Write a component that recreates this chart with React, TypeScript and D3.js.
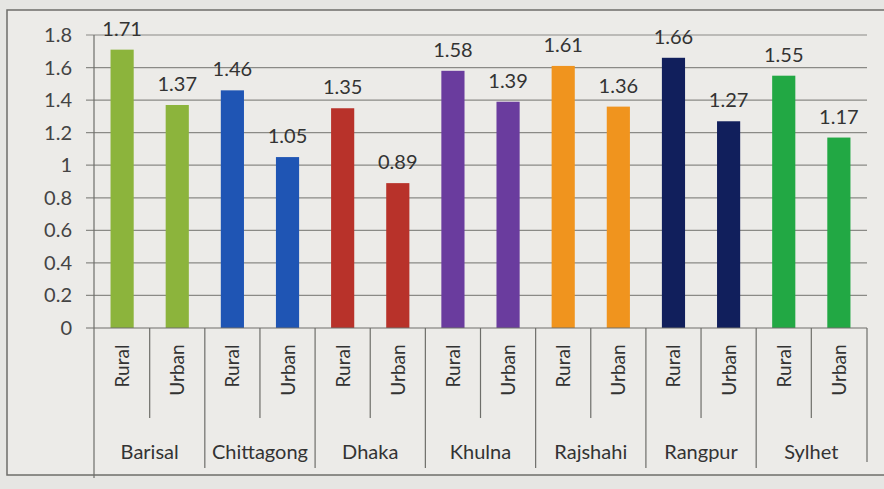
import { useEffect, useRef } from 'react';
import * as d3 from 'd3';

// regions (outer groups) and area types (inner bars)
const regions = ['Barisal', 'Chittagong', 'Dhaka', 'Khulna', 'Rajshahi', 'Rangpur', 'Sylhet'];
const areas = ['Rural', 'Urban'];
const ruralValues = [1.71, 1.46, 1.35, 1.58, 1.61, 1.66, 1.55];
const urbanValues = [1.37, 1.05, 0.89, 1.39, 1.36, 1.27, 1.17];
const regionColors = ['#8cb43c', '#1f55b4', '#b8322a', '#6a3c9e', '#f0941e', '#111f5c', '#22a844'];
const yTicks = [0, 0.2, 0.4, 0.6, 0.8, 1, 1.2, 1.4, 1.6, 1.8];

function App() {
    const svgRef = useRef<SVGSVGElement>(null);

    useEffect(() => {
        const width = 884;
        const height = 489;
        const plot = { left: 94, right: 867, top: 35, bottom: 328 };
        const font = 'Lato, "Open Sans", sans-serif';

        const svg = d3.select(svgRef.current);
        svg.selectAll('*').remove();
        svg.attr('width', width).attr('height', height);

        // flatten into one bar per region/area
        const bars = regions.flatMap((region, i) => [
            { key: `${region}-Rural`, region, area: areas[0], value: ruralValues[i], color: regionColors[i] },
            { key: `${region}-Urban`, region, area: areas[1], value: urbanValues[i], color: regionColors[i] },
        ]);

        const x = d3.scaleBand()
            .domain(bars.map(d => d.key))
            .range([plot.left, plot.right])
            .paddingInner(0.58)
            .paddingOuter(0.3);
        const step = x.step();

        const y = d3.scaleLinear()
            .domain([0, 1.8])
            .range([plot.bottom, plot.top]);

        // background + frame like the photographed excel chart
        svg.append('rect')
            .attr('x', 0).attr('y', 0).attr('width', width).attr('height', height)
            .attr('fill', '#e6e6e3');
        svg.append('rect')
            .attr('x', 7).attr('y', 10).attr('width', width + 10).attr('height', 465)
            .attr('fill', '#ecebe8')
            .attr('stroke', '#6e6e6a').attr('stroke-width', 1.5);

        // horizontal gridlines
        svg.append('g')
            .selectAll('line')
            .data(yTicks.slice(1))
            .join('line')
            .attr('x1', plot.left - 8).attr('x2', plot.right)
            .attr('y1', d => y(d)).attr('y2', d => y(d))
            .attr('stroke', '#8a8a86').attr('stroke-width', 1.2);

        // y tick labels
        svg.append('g')
            .selectAll('text')
            .data(yTicks)
            .join('text')
            .attr('x', 72).attr('y', d => y(d))
            .attr('dy', '0.35em')
            .attr('text-anchor', 'end')
            .attr('font-family', font).attr('font-size', 20)
            .attr('fill', '#444')
            .text(d => String(d));

        // bars
        svg.append('g')
            .selectAll('rect')
            .data(bars)
            .join('rect')
            .attr('x', d => x(d.key)!)
            .attr('width', x.bandwidth())
            .attr('y', d => y(d.value))
            .attr('height', d => y(0) - y(d.value))
            .attr('fill', d => d.color);

        // data labels
        svg.append('g')
            .selectAll('text')
            .data(bars)
            .join('text')
            .attr('x', d => x(d.key)! + x.bandwidth() / 2)
            .attr('y', d => y(d.value) - 14)
            .attr('text-anchor', 'middle')
            .attr('font-family', font).attr('font-size', 20)
            .attr('fill', '#333')
            .text(d => d.value.toFixed(2));

        // axes lines
        svg.append('line')
            .attr('x1', plot.left - 8).attr('x2', plot.right)
            .attr('y1', y(0)).attr('y2', y(0))
            .attr('stroke', '#6e6e6a').attr('stroke-width', 1.2);
        svg.append('line')
            .attr('x1', plot.left).attr('x2', plot.left)
            .attr('y1', plot.top).attr('y2', 478)
            .attr('stroke', '#6e6e6a').attr('stroke-width', 1.2);

        // multi level category axis separators
        const left = (key: string) => x(key)! - (step - x.bandwidth()) / 2;
        svg.append('g')
            .selectAll('line')
            .data(bars.slice(1))
            .join('line')
            .attr('x1', d => left(d.key)).attr('x2', d => left(d.key))
            .attr('y1', y(0))
            .attr('y2', d => d.area === 'Rural' ? 468 : 418)
            .attr('stroke', '#6e6e6a').attr('stroke-width', 1.2);
        svg.append('line')
            .attr('x1', plot.right).attr('x2', plot.right)
            .attr('y1', y(0)).attr('y2', 462)
            .attr('stroke', '#6e6e6a').attr('stroke-width', 1.2);

        // inner labels (rotated)
        svg.append('g')
            .selectAll('text')
            .data(bars)
            .join('text')
            .attr('transform', d => `translate(${x(d.key)! + x.bandwidth() / 2 + 7}, ${d.area === 'Rural' ? 366 : 370}) rotate(-90)`)
            .attr('text-anchor', 'middle')
            .attr('font-family', font).attr('font-size', 19)
            .attr('fill', '#333')
            .text(d => d.area);

        // outer labels
        svg.append('g')
            .selectAll('text')
            .data(regions)
            .join('text')
            .attr('x', d => left(`${d}-Rural`) + step)
            .attr('y', 459)
            .attr('text-anchor', 'middle')
            .attr('font-family', font).attr('font-size', 20)
            .attr('fill', '#333')
            .text(d => d);
    }, []);

    return <svg ref={svgRef} style={{ display: 'block', position: 'absolute', left: 0, top: 0 }} />;
}

export default App;
